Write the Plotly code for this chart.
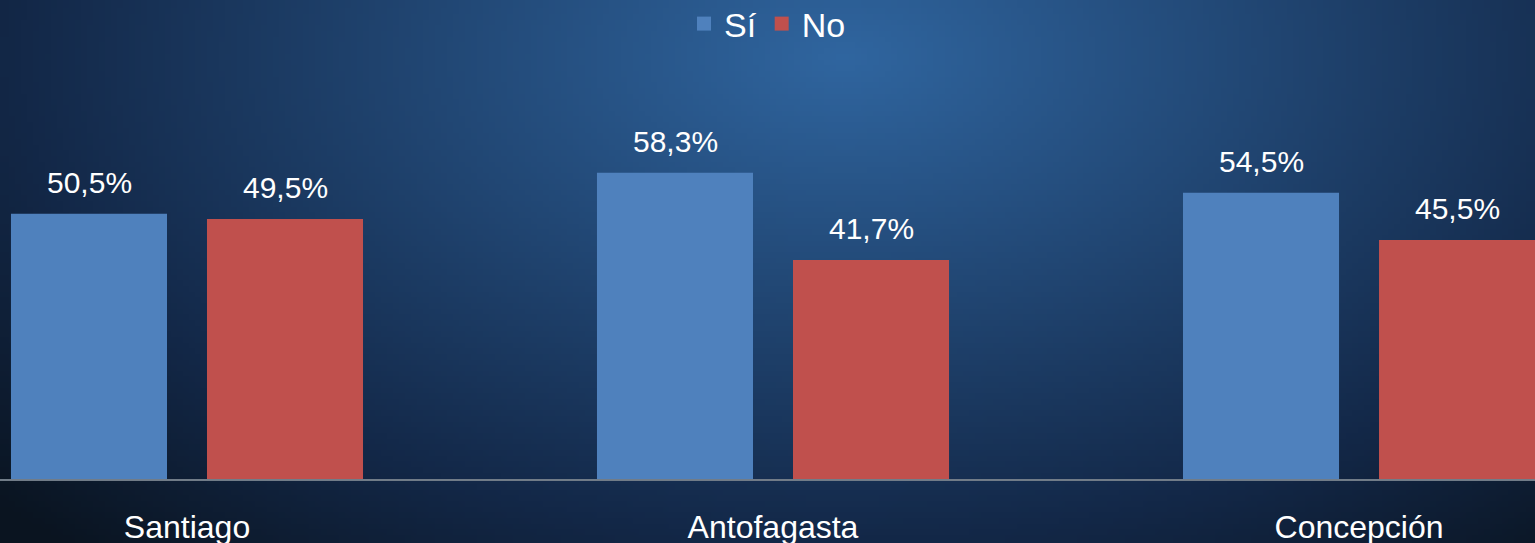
import base64, struct, zlib
import numpy as np
import plotly.graph_objects as go

categories = ["Santiago", "Antofagasta", "Concepción"]
si_values = [50.5, 58.3, 54.5]
no_values = [49.5, 41.7, 45.5]
series_names = ["Sí", "No"]
series_colors = ["#4F81BD", "#C0504D"]


def fmt(v):
    return f"{v:.1f}".replace(".", ",") + "%"


def gradient_png(w=256, h=96):
    xs = np.linspace(0, 1, w)[None, :]
    ys = np.linspace(0, 1, h)[:, None]
    d = np.sqrt(((xs - 0.55) / 0.6) ** 2 + ((ys - 0.1) / 1.0) ** 2)
    stops = [0.0, 0.9, 1.25]
    reds = [48, 19, 10]
    greens = [102, 40, 20]
    blues = [160, 72, 32]
    img = np.stack([np.interp(d, stops, reds), np.interp(d, stops, greens),
                    np.interp(d, stops, blues)], axis=-1)
    img = np.clip(img, 0, 255).astype(np.uint8)
    raw = b"".join(b"\x00" + img[r].tobytes() for r in range(h))

    def chunk(tag, data):
        c = struct.pack(">I", len(data)) + tag + data
        return c + struct.pack(">I", zlib.crc32(tag + data) & 0xFFFFFFFF)

    png = b"\x89PNG\r\n\x1a\n" + chunk(b"IHDR", struct.pack(">IIBBBBB", w, h, 8, 2, 0, 0, 0))
    png += chunk(b"IDAT", zlib.compress(raw, 9)) + chunk(b"IEND", b"")
    return "data:image/png;base64," + base64.b64encode(png).decode()


font_family = "Liberation Sans, Arial, sans-serif"
W, H = 1535, 543
BOTTOM = 64

fig = go.Figure()
for name, vals, col in zip(series_names, [si_values, no_values], series_colors):
    fig.add_trace(go.Bar(name=name, x=categories, y=vals, marker_color=col,
                         marker_line_width=0, hoverinfo="skip", showlegend=False,
                         legendgroup=name))
    # legend entry with a larger square swatch
    fig.add_trace(go.Scatter(name=name, x=[None], y=[None], mode="markers",
                             marker=dict(symbol="square", size=14, color=col),
                             legendgroup=name, showlegend=True))

annotations = []
for vals, shift in [(si_values, -98), (no_values, 98)]:
    for cat, v in zip(categories, vals):
        annotations.append(dict(x=cat, y=v, xref="x", yref="y", text=fmt(v),
                                showarrow=False, xshift=shift, yanchor="bottom",
                                yshift=13, font=dict(size=30, color="white", family=font_family)))

fig.update_layout(
    width=W, height=H, autosize=False,
    margin=dict(l=0, r=0, t=0, b=BOTTOM, pad=0, autoexpand=False),
    paper_bgcolor="#13304f",
    plot_bgcolor="rgba(0,0,0,0)",
    barmode="group", bargap=0.331, bargroupgap=0.204,
    font=dict(family=font_family, color="white"),
    showlegend=True,
    legend=dict(orientation="h", x=0.5, xanchor="center", y=1 - 24 / (H - BOTTOM),
                yanchor="middle", font=dict(size=34, color="white"),
                bgcolor="rgba(0,0,0,0)", traceorder="normal", itemclick=False,
                itemdoubleclick=False),
    annotations=annotations,
    images=[dict(source=gradient_png(), xref="paper", yref="paper", x=0, y=1,
                 sizex=1, sizey=H / (H - BOTTOM), xanchor="left", yanchor="top",
                 sizing="stretch", layer="below")],
    xaxis=dict(range=[-0.3191, 2.3003], showline=True, linecolor="#717c88", linewidth=2,
               showgrid=False, zeroline=False, ticks="outside", ticklen=19,
               tickcolor="rgba(0,0,0,0)", tickfont=dict(size=32, color="white"),
               fixedrange=True, automargin=False),
    yaxis=dict(range=[0, 91.2], visible=False, showgrid=False, zeroline=False,
               fixedrange=True, automargin=False),
)

fig.write_html("out.html", config={"displayModeBar": False},
               post_script="document.body.style.margin='0';document.body.style.overflow='hidden';")
